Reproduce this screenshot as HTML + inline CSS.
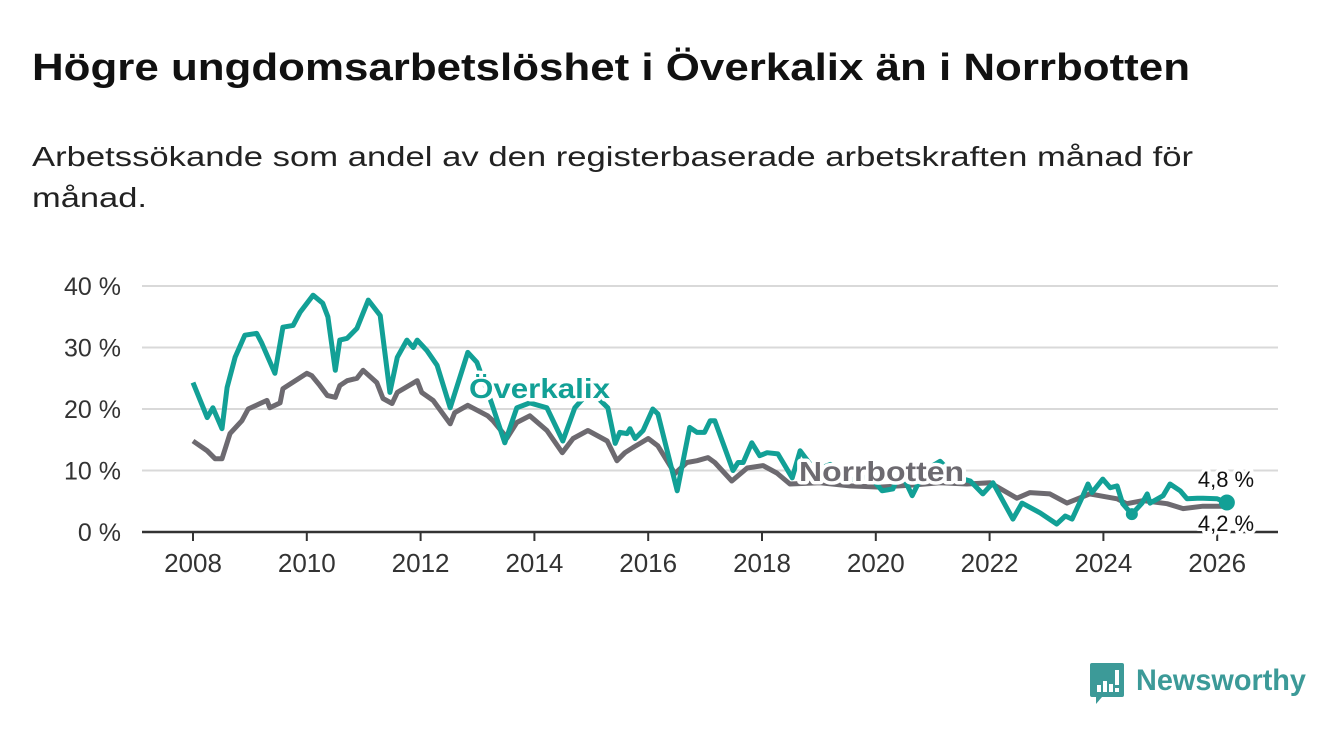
<!DOCTYPE html>
<html><head><meta charset="utf-8">
<style>
html,body{margin:0;padding:0;background:#fff;width:1340px;height:734px;overflow:hidden}
svg{display:block}
text{font-family:"Liberation Sans",sans-serif}
</style></head>
<body>
<svg id="chart" width="1340" height="734" viewBox="0 0 1340 734">
<text x="32" y="80" font-size="38" font-weight="bold" fill="#111" textLength="1158" lengthAdjust="spacingAndGlyphs">Högre ungdomsarbetslöshet i Överkalix än i Norrbotten</text>
<text x="32" y="166" font-size="28" fill="#222" textLength="1161" lengthAdjust="spacingAndGlyphs">Arbetssökande som andel av den registerbaserade arbetskraften månad för</text>
<text x="32" y="207" font-size="28" fill="#222" textLength="115" lengthAdjust="spacingAndGlyphs">månad.</text>
<g id="grid"></g>
<g id="xaxis"></g>
<g id="series"></g>
<g id="labels"></g>
<g>
<path d="M1092 663 h30 a2 2 0 0 1 2 2 v30 a2 2 0 0 1 -2 2 h-20 l-6 7 v-7 h-4 a2 2 0 0 1 -2 -2 v-30 a2 2 0 0 1 2 -2z" fill="#3c9a98"/>
<rect x="1097" y="685" width="4" height="7" fill="#fff"/><rect x="1103" y="681" width="4" height="11" fill="#fff"/><rect x="1109" y="684" width="4" height="8" fill="#fff"/><rect x="1115" y="670" width="4" height="15" fill="#fff"/><rect x="1115" y="688" width="4" height="4" fill="#fff"/>
<text x="1136" y="690" font-size="30" font-weight="bold" fill="#3c9a98" textLength="170" lengthAdjust="spacingAndGlyphs">Newsworthy</text>
</g>
</svg>
<script>
const yTicks = [0, 10, 20, 30, 40];
const yTickLabels = ["0 %", "10 %", "20 %", "30 %", "40 %"];
const xTicks = [2008, 2010, 2012, 2014, 2016, 2018, 2020, 2022, 2024, 2026];
const overkalixDates = [2008.0,2008.25,2008.35,2008.51,2008.6,2008.74,2008.91,2009.12,2009.21,2009.44,2009.58,2009.76,2009.88,2010.11,2010.28,2010.37,2010.5,2010.58,2010.71,2010.88,2011.08,2011.29,2011.46,2011.59,2011.76,2011.87,2011.94,2012.11,2012.29,2012.52,2012.83,2012.99,2013.25,2013.48,2013.69,2013.92,2014.22,2014.5,2014.71,2014.98,2015.29,2015.42,2015.5,2015.63,2015.68,2015.77,2015.91,2016.08,2016.17,2016.51,2016.73,2016.86,2016.99,2017.09,2017.17,2017.49,2017.58,2017.67,2017.82,2017.96,2018.09,2018.28,2018.53,2018.67,2018.93,2019.2,2019.55,2019.9,2020.11,2020.3,2020.43,2020.64,2020.86,2021.13,2021.39,2021.66,2021.88,2022.06,2022.41,2022.57,2022.89,2023.18,2023.33,2023.45,2023.64,2023.73,2023.8,2023.99,2024.12,2024.24,2024.34,2024.5,2024.68,2024.77,2024.82,2025.05,2025.17,2025.35,2025.47,2025.65,2025.75,2026.0,2026.17];
const overkalixValues = [24.3,18.6,20.2,16.8,23.5,28.4,32,32.3,30.7,25.8,33.3,33.6,35.7,38.5,37.2,35,26.3,31.2,31.5,33.1,37.7,35.2,22.7,28.4,31.2,30,31.2,29.5,27.1,20.2,29.2,27.6,20.9,14.5,20.2,21,20.2,14.8,20.2,23,20.2,14.4,16.2,16,16.8,15.2,16.5,20,19.2,6.7,17,16.2,16.2,18.1,18.1,10,11.3,11.3,14.5,12.4,12.9,12.7,8.8,13.2,10,11,8.5,9,6.7,7,10,5.9,10,11.5,9,8.3,6.2,8,2.1,4.7,3.1,1.3,2.6,2.1,5.9,7.8,6.4,8.6,7.2,7.5,4.6,2.9,4.7,6.2,4.7,5.9,7.8,6.7,5.4,5.5,5.5,5.4,4.8];
const norrbottenDates = [2008.0,2008.25,2008.39,2008.51,2008.65,2008.86,2008.97,2009.18,2009.3,2009.35,2009.53,2009.58,2010.0,2010.09,2010.23,2010.36,2010.5,2010.58,2010.71,2010.88,2010.99,2011.23,2011.34,2011.5,2011.59,2011.94,2012.02,2012.22,2012.52,2012.6,2012.83,2013.18,2013.27,2013.52,2013.69,2013.92,2014.22,2014.49,2014.68,2014.94,2015.28,2015.45,2015.59,2015.73,2016.0,2016.17,2016.47,2016.68,2016.86,2017.05,2017.17,2017.47,2017.74,2018.02,2018.26,2018.49,2019.02,2019.55,2020.07,2020.6,2021.13,2021.6,2022.01,2022.48,2022.71,2023.06,2023.36,2023.76,2024.24,2024.41,2024.7,2025.12,2025.4,2025.75,2026.17];
const norrbottenValues = [14.8,13.2,11.9,11.9,16,18.1,20,20.9,21.4,20.2,21,23.3,25.8,25.4,23.8,22.2,21.9,23.8,24.6,25,26.3,24.3,21.7,20.9,22.7,24.6,22.7,21.4,17.6,19.4,20.6,18.9,18.1,15.3,17.8,18.9,16.5,12.9,15.2,16.5,14.8,11.6,12.9,13.7,15.2,14,9.5,11.3,11.6,12.1,11.3,8.3,10.4,10.8,9.6,7.8,8,7.5,7.3,7.6,8,7.8,8,5.5,6.4,6.2,4.7,6.2,5.4,4.6,5.1,4.6,3.8,4.2,4.2];
const overkalixLastLabel = "4,8 %";
const norrbottenLastLabel = "4,2 %";

const NS = "http://www.w3.org/2000/svg";
const X0 = 142, X1 = 1278;
const xs = v => 193 + (v - 2008) * 56.9;
const ys = v => 532 - v * 6.15;
function mk(tag, attrs, parent){const e=document.createElementNS(NS,tag);for(const k in attrs)e.setAttribute(k,attrs[k]);parent.appendChild(e);return e;}

const grid = document.getElementById('grid');
yTicks.forEach((t,i)=>{
  if(t!==0){
    const l = mk('line',{x1:X0,x2:X1,y1:ys(t),y2:ys(t),stroke:'#d9d9d9','stroke-width':2},grid);
    
    
  }
  const tx = mk('text',{x:121,y:ys(t)+9,'text-anchor':'end','font-size':25,fill:'#333'},grid);
  tx.textContent = yTickLabels[i];
  
  
});
const xa = document.getElementById('xaxis');
const base = mk('line',{x1:X0,x2:X1,y1:ys(0),y2:ys(0),stroke:'#333','stroke-width':2.5},xa);


xTicks.forEach(t=>{
  const tk = mk('line',{x1:xs(t),x2:xs(t),y1:ys(0),y2:ys(0)+9,stroke:'#333','stroke-width':2},xa);
  
  
  const tx = mk('text',{x:xs(t),y:572,'text-anchor':'middle','font-size':26,fill:'#333'},xa);
  tx.textContent = t;
  
  
});
const ser = document.getElementById('series');
function path(dates, vals){return dates.map((d,i)=>(i?'L':'M')+xs(d).toFixed(1)+' '+ys(vals[i]).toFixed(1)).join(' ');}
const pn = mk('path',{d:path(norrbottenDates,norrbottenValues),fill:'none',stroke:'#6d6a70','stroke-width':5,'stroke-linejoin':'round'},ser);


const po = mk('path',{d:path(overkalixDates,overkalixValues),fill:'none',stroke:'#12a096','stroke-width':5,'stroke-linejoin':'round'},ser);


const d1 = mk('circle',{cx:xs(overkalixDates[91]),cy:ys(overkalixValues[91]),r:6,fill:'#12a096'},ser);


const nL = overkalixDates.length-1;
const d2 = mk('circle',{cx:xs(overkalixDates[nL]),cy:ys(overkalixValues[nL]),r:8,fill:'#12a096'},ser);



const lab = document.getElementById('labels');
function halo(txt, attrs, name){
  const t = mk('text',Object.assign({stroke:'#fff','stroke-width':7,'paint-order':'stroke','stroke-linejoin':'round'},attrs),lab);
  t.textContent = txt;
  
  
}
halo('Överkalix',{x:469,y:398,'font-size':28,'font-weight':'bold',fill:'#12a096',textLength:141,lengthAdjust:'spacingAndGlyphs'},'overkalix-label');
halo('Norrbotten',{x:799,y:481,'font-size':28,'font-weight':'bold',fill:'#6d6a70',textLength:165,lengthAdjust:'spacingAndGlyphs'},'norrbotten-label');
halo(overkalixLastLabel,{x:1226,y:487,'text-anchor':'middle','font-size':22,fill:'#111'},'overkalix-last-value');
halo(norrbottenLastLabel,{x:1226,y:531,'text-anchor':'middle','font-size':22,fill:'#111'},'norrbotten-last-value');
</script>
</body></html>
